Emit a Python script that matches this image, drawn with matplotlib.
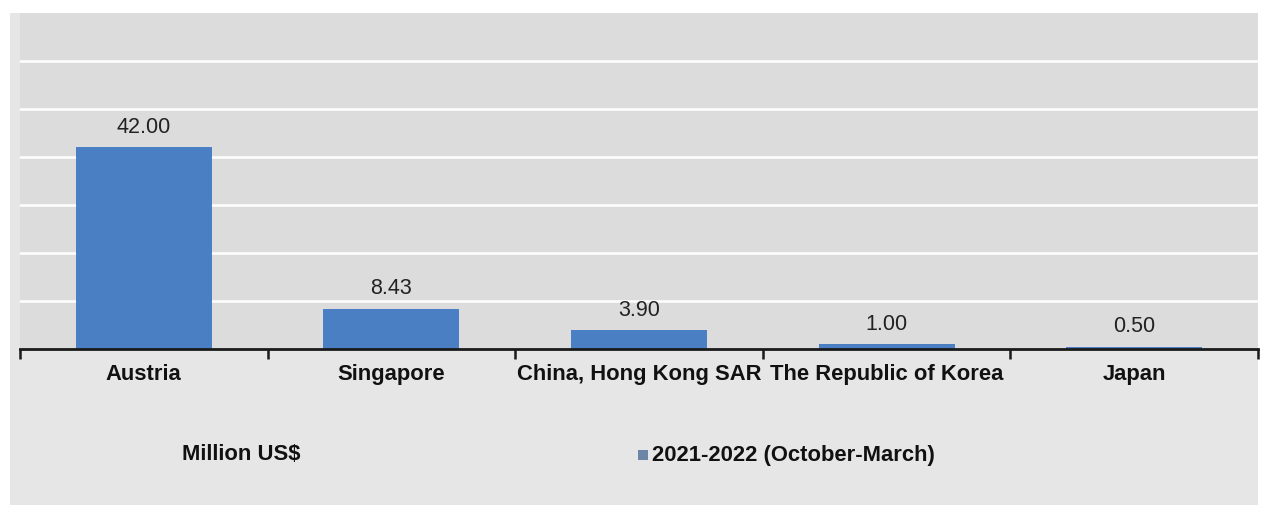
import numpy as np
import matplotlib.pyplot as plt
from matplotlib.patches import Rectangle

# data
countries = ['Austria', 'Singapore', 'China, Hong Kong SAR', 'The Republic of Korea', 'Japan']
values = [42.00, 8.43, 3.90, 1.00, 0.50]
series_name = '2021-2022 (October-March)'
unit_label = 'Million US$'

W, H = 1261, 515
plt.rcParams['font.family'] = ['Liberation Sans', 'DejaVu Sans']

fig = plt.figure(figsize=(W / 100, H / 100), dpi=100, facecolor='white')
# grey chart background, behind the axes
fig.patches.append(Rectangle((10 / W, 1 - 505 / H), 1248 / W, 492 / H,
                             transform=fig.transFigure, facecolor='#e6e6e6',
                             edgecolor='none', zorder=-5))

ax = fig.add_axes([20 / W, 1 - 349 / H, 1238 / W, 336 / H])
ax.set_facecolor('#dcdcdc')
x = np.arange(len(countries))
bars = ax.bar(x, values, width=0.55, color='#4a7fc4', zorder=3)
for xi, v in zip(x, values):
    ax.text(xi, v + 4.1, f'{v:.2f}', ha='center', va='center', fontsize=15.5, color='#222222')

ax.set_xlim(-0.5, len(countries) - 0.5)
ax.set_ylim(0, 70)
ax.set_yticks(np.arange(10, 70, 10))
ax.yaxis.grid(True, color='white', linewidth=1.8, zorder=1)
ax.set_axisbelow(True)
ax.tick_params(axis='y', left=False, labelleft=False)
for s in ['top', 'right', 'left']:
    ax.spines[s].set_visible(False)
ax.spines['bottom'].set_linewidth(2)
ax.spines['bottom'].set_color('#1a1a1a')
ax.spines['bottom'].set_zorder(4)

ax.set_xticks(np.arange(-0.5, len(countries), 1))
ax.set_xticklabels([])
ax.tick_params(axis='x', direction='out', length=7, width=1.8, color='#1a1a1a')
for xi, name in zip(x, countries):
    ax.text(xi, -5.4, name, ha='center', va='center', fontsize=15.8, fontweight='bold', color='#111111')

fig.text(241 / W, 1 - 455 / H, unit_label, ha='center', va='center', fontsize=15.8, fontweight='bold', color='#111111')
fig.patches.append(Rectangle((638 / W, 1 - 460 / H), 10 / W, 10 / H,
                             transform=fig.transFigure, facecolor='#6d86a8', edgecolor='none'))
fig.text(652 / W, 1 - 455 / H, series_name, ha='left', va='center', fontsize=15.8, fontweight='bold', color='#111111')

fig.savefig('out.png', dpi=100, facecolor='white')
